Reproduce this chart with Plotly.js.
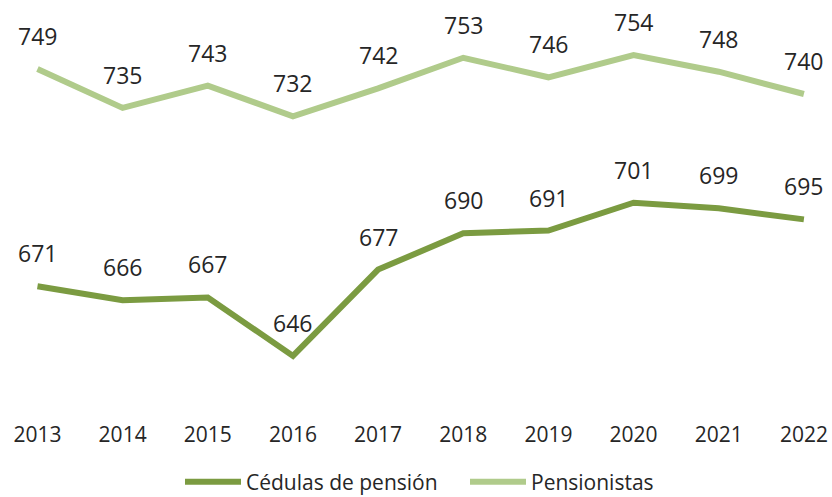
<!DOCTYPE html>
<html>
<head>
<meta charset="utf-8">
<script src="https://cdn.plot.ly/plotly-3.0.1.min.js"></script>
<style>html,body{margin:0;padding:0;background:#fff;}#chart{width:832px;height:497px;}</style>
</head>
<body>
<div id="chart"></div>
<script>
var years = [2013, 2014, 2015, 2016, 2017, 2018, 2019, 2020, 2021, 2022];
var cedulas = [671, 666, 667, 646, 677, 690, 691, 701, 699, 695];
var pensionistas = [749, 735, 743, 732, 742, 753, 746, 754, 748, 740];
var seriesNames = ["Cédulas de pensión", "Pensionistas"];

var darkGreen = "#7B9B41";
var lightGreen = "#B0CB8B";
var fontFam = "Open Sans, sans-serif";

var traces = [
  {x: years, y: cedulas, name: seriesNames[0], mode: "lines",
   line: {color: darkGreen, width: 6}, hoverinfo: "skip"},
  {x: years, y: pensionistas, name: seriesNames[1], mode: "lines",
   line: {color: lightGreen, width: 6}, hoverinfo: "skip"}
];

var annotations = [];
[cedulas, pensionistas].forEach(function (arr) {
  arr.forEach(function (v, i) {
    annotations.push({x: years[i], y: v, xref: "x", yref: "y", text: String(v),
      showarrow: false, yshift: 33, font: {family: fontFam, size: 23, color: "#262626"}});
  });
});

var layout = {
  width: 832, height: 497,
  margin: {l: 0, r: 0, t: 38, b: 99, pad: 0, autoexpand: false},
  paper_bgcolor: "#fff", plot_bgcolor: "#fff",
  showlegend: true,
  legend: {orientation: "h", xref: "paper", yref: "container", x: 180 / 832, xanchor: "left",
    y: 0.03, yanchor: "middle", entrywidth: 214, entrywidthmode: "pixels",
    font: {family: fontFam, size: 21, color: "#262626"}, itemwidth: 56, traceorder: "normal"},
  xaxis: {range: [2012.56, 2022.33], tickvals: years, ticktext: years.map(String),
    showgrid: false, zeroline: false, showline: false, ticks: "", ticklabelstandoff: 22,
    tickfont: {family: fontFam, size: 21, color: "#262626"}, fixedrange: true},
  yaxis: {range: [630.9, 760.1], visible: false, showgrid: false, zeroline: false, fixedrange: true},
  annotations: annotations
};

Plotly.newPlot("chart", traces, layout, {displayModeBar: false, staticPlot: true});
</script>
</body>
</html>
